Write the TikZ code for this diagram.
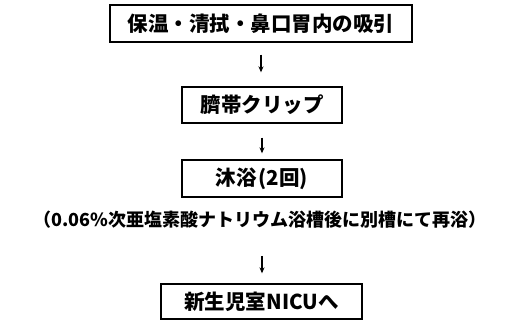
\documentclass[tikz,border=0pt]{standalone}
\usepackage{fontspec}
\setmainfont{Noto Sans CJK JP}
\usetikzlibrary{arrows.meta}
\begin{document}
\begin{tikzpicture}[x=1pt,y=1pt,
  stepbox/.style={draw=black,line width=1.3pt,inner sep=0pt,font=\fontsize{20.5}{20.5}\selectfont\bfseries},
  flow/.style={line width=1.2pt,-{Stealth[length=6pt,width=5pt]}}]
\useasboundingbox (0,0) rectangle (515,-320);
\node[stepbox,minimum width=302pt,minimum height=37pt] (b1) at (261,-23.5) {保温・清拭・鼻口胃内の吸引};
\node[stepbox,minimum width=160pt,minimum height=36pt] (b2) at (262,-105) {臍帯クリップ};
\node[stepbox,minimum width=160pt,minimum height=37pt] (b3) at (262,-178.5) {沐浴\kern2pt(2回)};
\node[inner sep=0pt,text height=14pt,text depth=3.5pt,font=\fontsize{18}{18}\selectfont\bfseries] (cap) at (260,-221) {（0.06\%次亜塩素酸ナトリウム浴槽後に別槽にて再浴）};
\node[stepbox,minimum width=201pt,minimum height=35pt] (b4) at (261.5,-301.5) {新生児室NICUへ};
\draw[flow,shorten <=12pt,shorten >=14pt] (b1) -- (b1|-b2.north);
\draw[flow,shorten <=14pt,shorten >=6pt] (b2) -- (b3);
\draw[flow,shorten <=26pt,shorten >=10pt] (cap.south-|b2) -- (b4.north-|b2);
\end{tikzpicture}
\end{document}
